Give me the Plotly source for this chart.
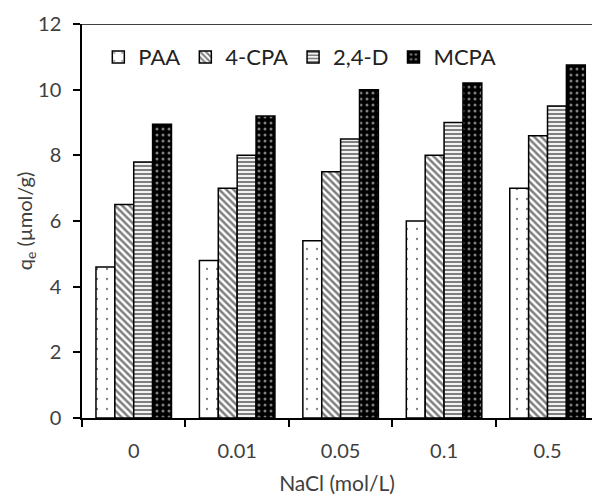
import plotly.graph_objects as go

# NaCl concentration (mol/L) categories
nacl = ["0", "0.01", "0.05", "0.1", "0.5"]

# Adsorption capacity q_e (µmol/g) for each herbicide
paa = [4.6, 4.8, 5.4, 6.0, 7.0]
cpa4 = [6.5, 7.0, 7.5, 8.0, 8.6]
d24 = [7.8, 8.0, 8.5, 9.0, 9.5]
mcpa = [8.95, 9.2, 10.0, 10.2, 10.75]

y_ticks = [0, 2, 4, 6, 8, 10, 12]

font_family = "Lato, Open Sans, sans-serif"
text_color = "#404040"

series = [
    ("PAA", paa, dict(shape=".", fgcolor="black", bgcolor="white", size=10, solidity=0.04)),
    ("4-CPA", cpa4, dict(shape="\\", fgcolor="black", bgcolor="white", size=5, solidity=0.5)),
    ("2,4-D", d24, dict(shape="-", fgcolor="black", bgcolor="white", size=4, solidity=0.55)),
    ("MCPA", mcpa, dict(shape=".", fgcolor="white", bgcolor="black", size=6, solidity=0.2, fillmode="overlay")),
]

fig = go.Figure()
for name, vals, pat in series:
    fig.add_trace(go.Bar(
        x=nacl, y=vals, name=name,
        marker=dict(color="white" if pat["bgcolor"] == "white" else "black",
                    line=dict(color="black", width=1.5),
                    pattern=pat),
    ))

fig.update_layout(
    width=592, height=500,
    margin=dict(l=82, r=0, t=24, b=82),
    paper_bgcolor="white", plot_bgcolor="white",
    barmode="group", bargap=0.27, bargroupgap=0,
    font=dict(family=font_family, size=20, color=text_color),
    showlegend=True,
    legend=dict(orientation="h", x=0.032, y=0.916, xanchor="left", yanchor="middle",
                font=dict(size=22, color="#222222"), bgcolor="rgba(0,0,0,0)",
                itemwidth=30, tracegroupgap=0),
)

fig.update_xaxes(
    type="category", range=[-0.5, 4.43],
    showline=True, linecolor="black", linewidth=1.5,
    ticks="outside", tickson="boundaries", ticklen=7, tickwidth=1.5, tickcolor="black",
    tickfont=dict(size=20, color=text_color), ticklabelstandoff=14,
    title=dict(text="NaCl (mol/L)", font=dict(size=21, color=text_color), standoff=16),
    showgrid=False, zeroline=False, mirror=False,
)
fig.update_yaxes(
    range=[0, 12], tickvals=y_ticks,
    showline=True, linecolor="black", linewidth=1.5,
    ticks="outside", ticklen=7, tickwidth=1.5, tickcolor="black",
    tickfont=dict(size=20, color=text_color), ticklabelstandoff=8,
    title=dict(text="q<sub>e</sub> (µmol/g)", font=dict(size=20, color=text_color), standoff=0),
    showgrid=False, zeroline=False,
)

# top frame line
fig.add_shape(type="line", xref="paper", yref="y", x0=0, x1=1, y0=12, y1=12,
              line=dict(color="black", width=1.5))

fig.write_html("out.html")
